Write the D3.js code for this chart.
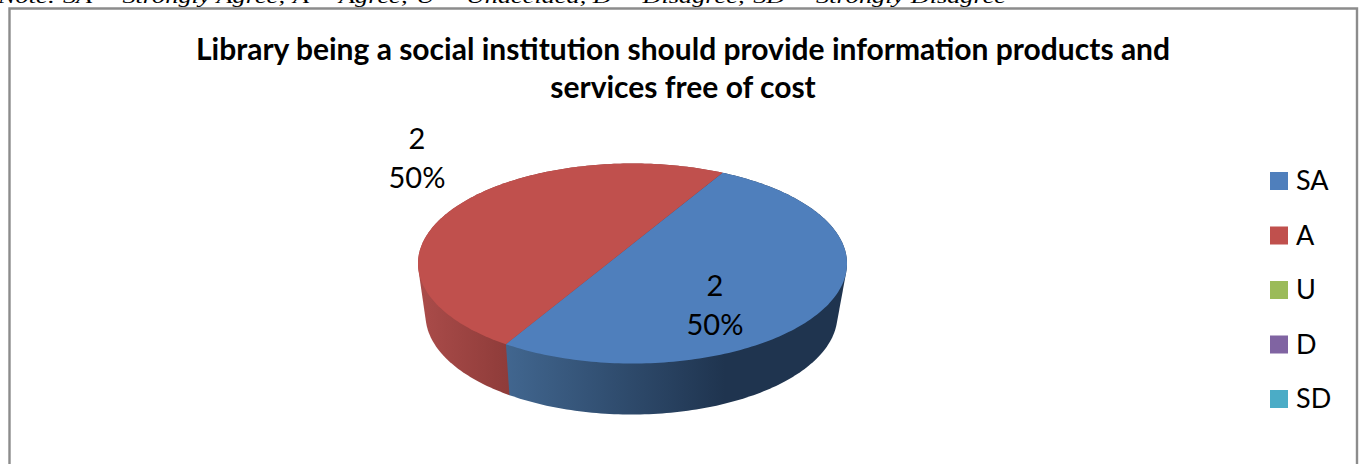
<!DOCTYPE html>
<html>
<head>
<meta charset="utf-8">
<script src="https://cdn.jsdelivr.net/npm/d3@7"></script>
<style>
  html, body { margin: 0; padding: 0; background: #fff; overflow: hidden; }
  svg { display: block; }
</style>
</head>
<body>
<script>
// Survey responses for one statement
const categories = ["SA", "A", "U", "D", "SD"];
const counts = [2, 2, 0, 0, 0];
const percents = ["50%", "50%", "0%", "0%", "0%"];
const sliceColors = ["#4f7fbc", "#c0504d", "#9bbb59", "#8064a2", "#4bacc6"];
const titleLines = [
  "Library being a social institution should provide information products and",
  "services free of cost"
];
const noteText = "Note: SA = Strongly Agree; A = Agree; U = Undecided, D = Disagree; SD = Strongly Disagree";

const width = 1363, height = 464;
const svg = d3.select("body").append("svg").attr("width", width).attr("height", height);

// Shaded rim colours, left to right along the screen
const defs = svg.append("defs");
const rimStops = [
  { id: "rim-0", x1: 507, x2: 725, stops: ["#41668f", "#1f344f"] },
  { id: "rim-1", x1: 423, x2: 507, stops: ["#a94b49", "#8f3c3a"] }
];
rimStops.forEach(g => {
  const lg = defs.append("linearGradient").attr("id", g.id)
    .attr("gradientUnits", "userSpaceOnUse")
    .attr("x1", g.x1).attr("x2", g.x2).attr("y1", 0).attr("y2", 0);
  lg.append("stop").attr("offset", 0).attr("stop-color", g.stops[0]);
  lg.append("stop").attr("offset", 1).attr("stop-color", g.stops[1]);
});

// Chart frame, open past the lower edge of the page
svg.append("path")
  .attr("d", d3.line()([[9.5, height + 4], [9.5, 8.5], [1357, 8.5], [1357, height + 4]]))
  .attr("fill", "none").attr("stroke", "#8c8c8c").attr("stroke-width", 2.4);

// Cropped note line above the frame
svg.append("text")
  .attr("x", -2).attr("y", 3)
  .attr("font-family", "'Liberation Serif'").attr("font-style", "italic")
  .attr("font-size", 19.5).attr("textLength", 1008).attr("lengthAdjust", "spacingAndGlyphs")
  .attr("fill", "#000").text(noteText);

// Title
svg.append("g").selectAll("text").data(titleLines).join("text")
  .attr("x", 683).attr("y", (d, i) => 60 + i * 38)
  .attr("text-anchor", "middle")
  .attr("font-family", "Lato").attr("font-weight", 700).attr("font-size", 30)
  .attr("fill", "#000").text(d => d);

// Tilted disc: a perspective projection of the unit circle onto an ellipse,
// so that opposite slice edges meet at the foreshortened centre.
const topRing = { cx: 632.5, cy: 263.5, rx: 214.5, ry: 100, tilt: 0.195 };
const baseRing = { cx: 631.5, cy: 315, rx: 206, ry: 99.5, tilt: 0.2 };
function project(ring, angle) {
  const u = Math.sin(angle), v = -Math.cos(angle);
  const w = 1 - ring.tilt * v;
  return [
    ring.cx + ring.rx * Math.sqrt(1 - ring.tilt * ring.tilt) * u / w,
    ring.cy + ring.ry * (v - ring.tilt) / w
  ];
}
const centre = [topRing.cx, topRing.cy - topRing.ry * topRing.tilt];

const pie = d3.pie().sort(null).startAngle(30 * Math.PI / 180).endAngle(390 * Math.PI / 180);
const arcs = pie(counts).filter(a => a.value > 0);
const line = d3.line();
const arcAngles = a => d3.range(0, 181).map(i => a.startAngle + (a.endAngle - a.startAngle) * i / 180);

// Rim: the swept hull of each slice between both rings, painted behind the top faces
const rimLayer = svg.append("g");
rimLayer.selectAll("path").data(arcs.slice().reverse()).join("path")
  .attr("d", a => {
    const angles = arcAngles(a);
    const hull = d3.polygonHull(angles.map(t => project(topRing, t)).concat(angles.map(t => project(baseRing, t))));
    return line(hull) + "Z";
  })
  .attr("fill", a => `url(#rim-${a.index})`);

const faceLayer = svg.append("g");
faceLayer.selectAll("path").data(arcs).join("path")
  .attr("d", a => line([centre].concat(arcAngles(a).map(t => project(topRing, t)))) + "Z")
  .attr("fill", a => sliceColors[a.index]);

// Data labels: count above percentage
const labelPos = [[715, 296], [417, 149]];
const labelLayer = svg.append("g");
arcs.forEach(a => {
  const [x, y] = labelPos[a.index];
  [String(counts[a.index]), percents[a.index]].forEach((s, i) => {
    labelLayer.append("text")
      .attr("x", x).attr("y", y + i * 39)
      .attr("text-anchor", "middle")
      .attr("font-family", "Lato").attr("font-size", 29)
      .attr("fill", "#000").text(s);
  });
});

// Legend
const legendY = d3.scalePoint().domain(categories).range([172, 390]);
const legend = svg.append("g").selectAll("g").data(categories).join("g")
  .attr("transform", d => `translate(1270,${legendY(d)})`);
legend.append("rect").attr("width", 18).attr("height", 18)
  .attr("fill", (d, i) => sliceColors[i]);
legend.append("text").attr("x", 26).attr("y", 18)
  .attr("font-family", "Lato").attr("font-size", 27)
  .attr("fill", "#000").text(d => d);
</script>
</body>
</html>
